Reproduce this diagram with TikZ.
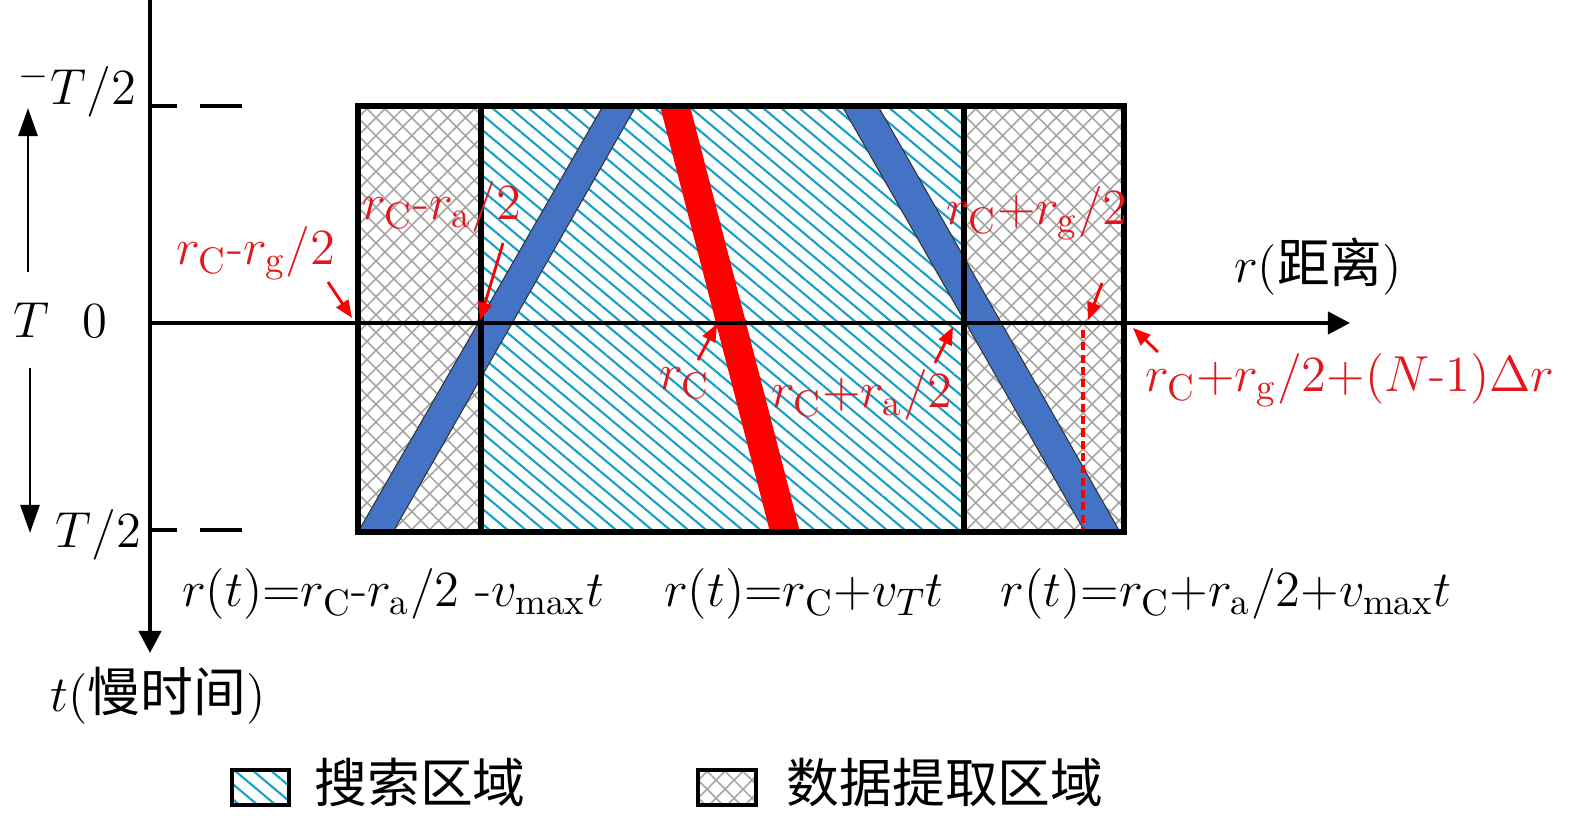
\documentclass[tikz,border=0pt]{standalone}
\usepackage{amsmath}
\usepackage{fontspec}
\newfontfamily\cjk{Noto Sans CJK SC}
\usetikzlibrary{arrows.meta,patterns.meta}
\definecolor{BandBlue}{RGB}{68,114,196}
\definecolor{TargetRed}{RGB}{255,0,0}
\definecolor{LabelRed}{RGB}{225,25,30}
\definecolor{HatchCyan}{RGB}{20,160,200}
\definecolor{HatchGray}{RGB}{165,165,165}
\newcommand{\hy}{\mathord{\text{-}}}
\newcommand{\pl}{\mathord{+}}
\newcommand{\eq}{\mathord{=}}
\tikzset{
  lbl/.style={font=\fontsize{15}{18}\selectfont, inner sep=0pt, anchor=base},
  redlbl/.style={lbl, text=LabelRed},
  searcharea/.style={pattern={Lines[angle=-40,distance=3.3pt,line width=0.6pt]}, pattern color=HatchCyan},
  dataarea/.style={pattern={Hatch[angle=45,distance=3.6pt,line width=0.45pt]}, pattern color=HatchGray},
  axis/.style={line width=1.2pt, -{Triangle[length=6.3pt,width=6.3pt]}},
  sidearrow/.style={line width=0.8pt, -{Triangle[length=8pt,width=5.4pt]}},
  band/.style={fill=BandBlue, draw=black!80, line width=0.3pt},
  redarr/.style={-{Triangle[length=5pt,width=4pt]}, line width=0.8pt, TargetRed},
  tick/.style={line width=1.2pt},
  frame/.style={line width=1.5pt},
}
\begin{document}
\begin{tikzpicture}[x=0.01cm, y=-0.01cm]
  \useasboundingbox (0,0) rectangle (1575,816);
  % regions
  \fill[dataarea] (358,106) rectangle (481,532);
  \fill[searcharea] (481,106) rectangle (964,532);
  \fill[dataarea] (964,106) rectangle (1124,532);
  % trajectories
  \filldraw[band] (603,106) -- (636,106) -- (393,532) -- (358,532) -- cycle;
  \filldraw[band] (842,106) -- (878,106) -- (1120,532) -- (1085,532) -- cycle;
  \fill[TargetRed] (660,106) -- (690,106) -- (800,532) -- (770,532) -- cycle;
  \draw[TargetRed, line width=1pt, dash pattern=on 2.3pt off 1.2pt] (1083,330) -- (1083,532);
  % frame
  \draw[frame] (358,106) rectangle (1124,532);
  \draw[frame] (481,106) -- (481,532) (964,106) -- (964,532);
  % axes
  \coordinate (O) at (150,323);
  \coordinate (rEnd) at (1350,323);
  \coordinate (tTop) at (150,0);
  \coordinate (tEnd) at (150,653);
  \draw[axis] (O) -- (rEnd);
  \draw[axis, -] (tTop) -- (O);
  \draw[axis] (O) -- (tEnd);
  \draw[tick] (150,106) -- (177,106) (200,106) -- (242,106);
  \draw[tick] (150,530) -- (177,530) (200,530) -- (242,530);
  \coordinate (upA) at (28,272);
  \coordinate (upB) at (28,108);
  \coordinate (dnA) at (30,368);
  \coordinate (dnB) at (30,533);
  \draw[sidearrow] (upA) -- (upB);
  \draw[sidearrow] (dnA) -- (dnB);
  % axis labels
  \node[lbl, anchor=base west] (tmin) at (18,105) {${}^{-}T/2$};
  \node[lbl, anchor=base west] (tmax) at (55,548) {$T/2$};
  \node[lbl] (Tlen) at (31,338) {$T$};
  \node[lbl] (zero) at (95,338) {$0$};
  \node[lbl] (rlab) at (1318,283) {$r($\cjk 距离$)$};
  \node[lbl] (tlab) at (158,712) {$t($\cjk 慢时间$)$};
  % trajectory equations
  \node[lbl] (eqL) at (393,607) {$r(t)\eq r_{\mathrm{C}}\hy r_{\mathrm{a}}/2\ \hy v_{\max}t$};
  \node[lbl] (eqM) at (804,607) {$r(t)\eq r_{\mathrm{C}}\pl v_{T}t$};
  \node[lbl] (eqR) at (1226,607) {$r(t)\eq r_{\mathrm{C}}\pl r_{\mathrm{a}}/2\pl v_{\max}t$};
  % red range marks
  \node[redlbl] (rgL) at (256,265) {$r_{\mathrm{C}}\hy r_{\mathrm{g}}/2$};
  \node[redlbl] (raL) at (442,220) {$r_{\mathrm{C}}\hy r_{\mathrm{a}}/2$};
  \node[redlbl] (rc) at (685,390) {$r_{\mathrm{C}}$};
  \node[redlbl] (raR) at (862,408) {$r_{\mathrm{C}}\pl r_{\mathrm{a}}/2$};
  \node[redlbl] (rgR) at (1037,225) {$r_{\mathrm{C}}\pl r_{\mathrm{g}}/2$};
  \node[redlbl] (rN) at (1350,392) {$r_{\mathrm{C}}\pl r_{\mathrm{g}}/2\pl(N\hy1)\Delta r$};
  \coordinate (rgLs) at (328,282);  \coordinate (rgLt) at (352,318);
  \coordinate (raLs) at (503,243);  \coordinate (raLt) at (480,320);
  \coordinate (rcs) at (698,360);   \coordinate (rct) at (717,324);
  \coordinate (raRs) at (935,363);  \coordinate (raRt) at (953,327);
  \coordinate (rgRs) at (1102,283); \coordinate (rgRt) at (1088,320);
  \coordinate (rNs) at (1158,352);  \coordinate (rNt) at (1133,328);
  \foreach \a in {rgL,raL,rc,raR,rgR,rN}
    \draw[redarr] (\a s) -- (\a t);
  % legend
  \draw[line width=1.2pt, searcharea] (232,770) rectangle (289,805);
  \node[lbl] (legS) at (420,803) {\cjk 搜索区域};
  \draw[line width=1.2pt, dataarea] (698,770) rectangle (756,805);
  \node[lbl] (legD) at (945,803) {\cjk 数据提取区域};
\end{tikzpicture}
\end{document}
